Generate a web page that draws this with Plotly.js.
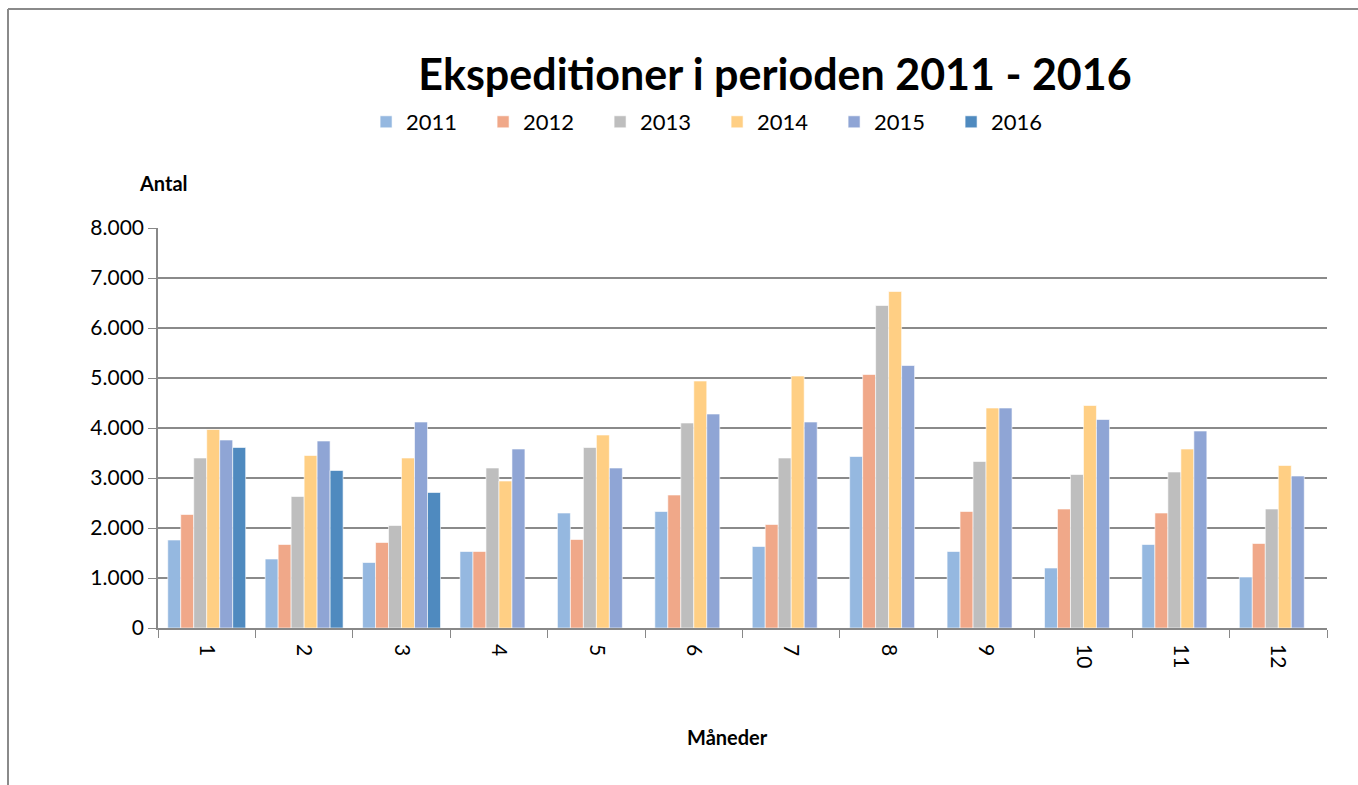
<!DOCTYPE html>
<html>
<head>
<meta charset="utf-8">
<script src="https://cdn.plot.ly/plotly-3.0.1.min.js"></script>
<style>html,body{margin:0;padding:0;background:#fff;}#chart{width:1358px;height:785px;}</style>
</head>
<body>
<div id="chart"></div>
<script>
const months = ['1','2','3','4','5','6','7','8','9','10','11','12'];
const years = ['2011','2012','2013','2014','2015','2016'];
const v2011 = [1760,1380,1310,1530,2300,2330,1630,3430,1530,1200,1670,1020];
const v2012 = [2270,1670,1710,1530,1770,2660,2070,5070,2330,2380,2300,1690];
const v2013 = [3400,2630,2050,3200,3610,4100,3400,6450,3330,3070,3120,2380];
const v2014 = [3970,3450,3400,2940,3860,4940,5040,6730,4400,4450,3580,3250];
const v2015 = [3760,3740,4120,3580,3200,4280,4120,5250,4400,4170,3940,3040];
const v2016 = [3610,3150,2710,null,null,null,null,null,null,null,null,null];
const series = [v2011,v2012,v2013,v2014,v2015,v2016];
const colors = ['#95B8E0','#F0A889','#BEBEBE','#FFCF84','#8FA5D5','#4F8ABF'];

const font = 'Lato, "Open Sans", sans-serif';
const traces = series.map((vals,i)=>({
  type:'bar', name: years[i], x: months, y: vals,
  marker:{color: colors[i], line:{color:'rgba(255,255,255,0.6)', width:1}},
  hoverinfo:'x+y+name'
}));

const layout = {
  width:1358, height:785,
  margin:{l:158, r:31, t:228, b:157},
  paper_bgcolor:'#fff', plot_bgcolor:'#fff',
  barmode:'group', bargap:0.2, bargroupgap:0,
  separators: ',.',
  font:{family:font, color:'#000'},
  title:{text:'<b>Ekspeditioner i perioden 2011 - 2016</b>', font:{family:font, size:43, color:'#000'},
         x:0.5707, xanchor:'center', xref:'container', y:0.904, yanchor:'middle', yref:'container'},
  showlegend:true,
  legend:{orientation:'h', x:0.178, xanchor:'left', y:1.265, yanchor:'middle',
          font:{family:font, size:22, color:'#000'}, entrywidth:72, entrywidthmode:'pixels',
          itemclick:false, traceorder:'normal'},
  xaxis:{type:'category', tickangle:90, tickson:'boundaries', ticks:'outside', ticklen:8,
         tickcolor:'#888', showline:true, linecolor:'#888', linewidth:1.5, ticklabelstandoff:10,
         tickfont:{family:font, size:21, color:'#000'}, showgrid:false, fixedrange:true},
  yaxis:{range:[0,8000], dtick:1000, tickformat:',.0f', ticks:'outside', ticklen:8, tickcolor:'#888',
         showline:true, linecolor:'#888', linewidth:1.5, gridcolor:'#8a8a8a', gridwidth:1.5,
         zeroline:false, tickfont:{family:font, size:21, color:'#000'}, fixedrange:true},
  annotations:[
    {text:'<b>Antal</b>', xref:'paper', yref:'paper', x:(163-158)/1169, y:(628-183)/400,
     xanchor:'center', yanchor:'middle', showarrow:false, font:{family:font, size:20, color:'#000'}},
    {text:'<b>Måneder</b>', xref:'paper', yref:'paper', x:(727-158)/1169, y:(628-737)/400,
     xanchor:'center', yanchor:'middle', showarrow:false, font:{family:font, size:20, color:'#000'}}
  ],
  shapes:[
    {type:'line', xref:'paper', yref:'paper', x0:(8-158)/1169, x1:(1400-158)/1169, y0:(628-9)/400, y1:(628-9)/400,
     line:{color:'#8a8a8a', width:2}},
    {type:'line', xref:'paper', yref:'paper', x0:(8-158)/1169, x1:(8-158)/1169, y0:(628-9)/400, y1:(628-800)/400,
     line:{color:'#8a8a8a', width:2}}
  ]
};
Plotly.newPlot('chart', traces, layout, {displayModeBar:false, staticPlot:false});
</script>
</body>
</html>
